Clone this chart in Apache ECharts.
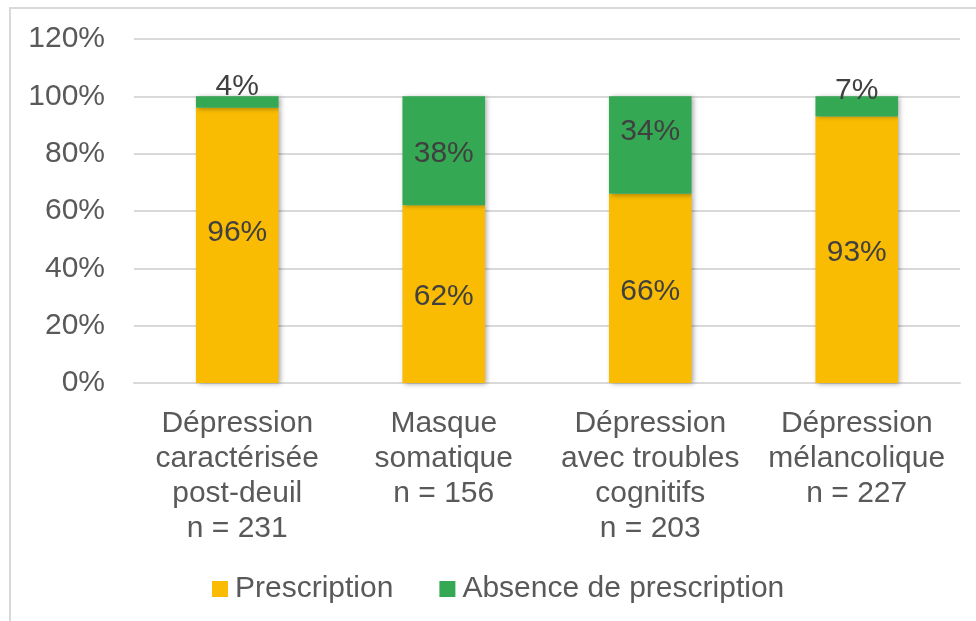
<!DOCTYPE html>
<html>
<head>
<meta charset="utf-8">
<script src="https://cdn.jsdelivr.net/npm/echarts@6/dist/echarts.min.js"></script>
<style>
    html, body { margin: 0; padding: 0; background: #fff; }
    #chart { width: 976px; height: 621px; }
</style>
</head>
<body>
<div id="chart"></div>
<script>
// 数据
var categories = [
    'Dépression\ncaractérisée\npost-deuil\nn = 231',
    'Masque\nsomatique\nn = 156',
    'Dépression\navec troubles\ncognitifs\nn = 203',
    'Dépression\nmélancolique\nn = 227'
];
var prescription = [96, 62, 66, 93];
var absence = [4, 38, 34, 7];
var yTicks = [0, 20, 40, 60, 80, 100, 120];

// 标签微调 (跟原图一样有些标签被挪动过)
var prescriptionNudge = [-13, 3, 3, 3];
var absenceNudge = [-15, 3, -13, -16];

var font = 'Liberation Sans, Arial, sans-serif';
var yellow = '#F9BC02';
var green = '#34A853';

function withNudge(values, nudge) {
    return values.map(function (v, i) {
        return { value: v, label: { offset: [0, nudge[i]] } };
    });
}

var barShadow = {
    shadowBlur: 5,
    shadowColor: 'rgba(0, 0, 0, 0.35)',
    shadowOffsetX: 2,
    shadowOffsetY: 1
};

var chart = echarts.init(document.getElementById('chart'));
chart.setOption({
    animation: false,
    backgroundColor: '#fff',
    textStyle: { fontFamily: font },
    graphic: [{
        type: 'rect',
        shape: { x: 10, y: 8, width: 1000, height: 700 },
        style: { fill: 'none', stroke: '#d9d9d9', lineWidth: 2 },
        silent: true
    }],
    legend: {
        left: 207,
        top: 569,
        itemWidth: 16,
        itemHeight: 16,
        itemGap: 46,
        icon: 'rect',
        data: ['Prescription', 'Absence de prescription'],
        textStyle: { fontSize: 30, color: '#595959', fontFamily: font, padding: [0, 0, 0, 2] }
    },
    grid: {
        left: 134,
        right: 16,
        top: 39,
        bottom: 238
    },
    xAxis: {
        type: 'category',
        data: categories,
        axisLine: { lineStyle: { color: '#d9d9d9', width: 2 } },
        axisTick: { show: false },
        axisLabel: {
            interval: 0,
            margin: 23,
            fontSize: 30,
            lineHeight: 35,
            color: '#595959',
            fontFamily: font,
            verticalAlign: 'top'
        }
    },
    yAxis: {
        type: 'value',
        min: yTicks[0],
        max: yTicks[yTicks.length - 1],
        interval: 20,
        axisLine: { show: false },
        axisTick: { show: false },
        splitLine: { lineStyle: { color: '#d9d9d9', width: 2 } },
        axisLabel: {
            formatter: '{value}%',
            margin: 29,
            fontSize: 30,
            color: '#595959',
            fontFamily: font
        }
    },
    series: [{
        name: 'Prescription',
        type: 'bar',
        stack: 'total',
        barWidth: '40%',
        itemStyle: Object.assign({ color: yellow }, barShadow),
        label: {
            show: true,
            position: 'inside',
            formatter: '{c}%',
            fontSize: 30,
            color: '#404040',
            fontFamily: font
        },
        data: withNudge(prescription, prescriptionNudge)
    }, {
        name: 'Absence de prescription',
        type: 'bar',
        stack: 'total',
        barWidth: '40%',
        itemStyle: Object.assign({ color: green }, barShadow),
        label: {
            show: true,
            position: 'inside',
            formatter: '{c}%',
            fontSize: 30,
            color: '#404040',
            fontFamily: font
        },
        data: withNudge(absence, absenceNudge)
    }]
});
</script>
</body>
</html>
